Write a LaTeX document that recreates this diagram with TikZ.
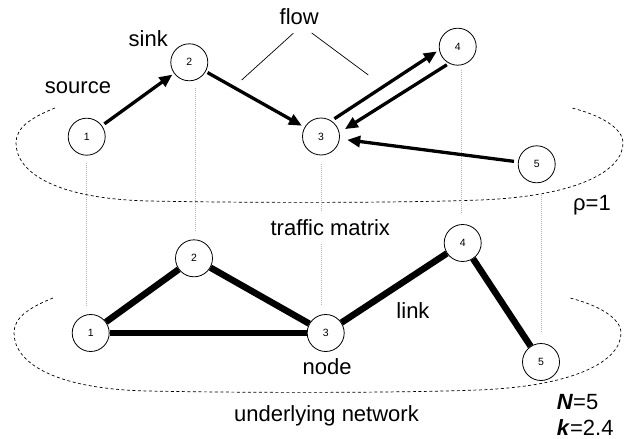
\documentclass[tikz,border=0pt]{standalone}
\usepackage{fontspec}
\setmainfont{Liberation Sans}
\usetikzlibrary{arrows.meta,calc}
\begin{document}
\begin{tikzpicture}[x=1pt,y=-1pt,
  nd/.style={circle,draw,line width=0.8pt,fill=white,minimum size=37pt,inner sep=0pt,font=\fontsize{10.5}{12}\selectfont},
  lbl/.style={font=\fontsize{22}{26}\selectfont,inner sep=0pt},
  farrow/.style={line width=3.3pt,-{Triangle[length=13pt,width=11pt]}},
  lnk/.style={line width=6.5pt},
  vdot/.style={draw=gray!60,line width=0.7pt,dash pattern=on 1pt off 1pt},
  layer/.style={line width=0.7pt,dash pattern=on 3pt off 2.5pt},
  flowline/.style={line width=0.7pt}
]
\useasboundingbox (0,0) rectangle (632,439);

% layers
\draw[layer] (55,108) .. controls (30,118) and (16,128) .. (16,143)
  .. controls (16,172) and (55,199) .. (150,201)
  .. controls (250,203) and (400,203) .. (480,200)
  .. controls (580,196) and (623,170) .. (623,143)
  .. controls (623,128) and (600,115) .. (572,108);
\begin{scope}[shift={(-2,190)}]
\draw[layer] (55,108) .. controls (30,118) and (16,128) .. (16,143)
  .. controls (16,172) and (55,199) .. (150,201)
  .. controls (250,203) and (400,203) .. (480,200)
  .. controls (580,196) and (623,170) .. (623,143)
  .. controls (623,128) and (600,115) .. (572,108);
\end{scope}

% nodes
\node[nd] (t1) at (86.7,136.7) {1};
\node[nd] (t2) at (189.3,62.3) {2};
\node[nd] (t3) at (321,136.5) {3};
\node[nd] (t4) at (457.7,46.7) {4};
\node[nd] (t5) at (536.7,164.3) {5};
\node[nd] (b1) at (90.7,333) {1};
\node[nd] (b2) at (194,258.3) {2};
\node[nd] (b3) at (325.7,333) {3};
\node[nd] (b4) at (462.7,243) {4};
\node[nd] (b5) at (541,362) {5};

% vertical dotted projections
\draw[vdot] ($(t1.south)+(0,7)$) -- ($(b1.north)+(-4,-9)$);
\draw[vdot] ($(t2.south)+(5.7,7)$) -- ($(b2.north)+(1,-9)$);
\draw[vdot] ($(t3.south)+(0.7,9)$) -- ($(b3.north)+(-4,-9)$);
\draw[vdot] ($(t4.south)+(4,4)$) -- ($(b4.north)+(-1,-12)$);
\draw[vdot] ($(t5.south)+(5,10)$) -- ($(b5.north)+(0.7,-11)$);

\node[lbl,fill=white,inner xsep=2pt,inner ysep=7pt] (tm) at (330.3,227.5) {traffic matrix};

% links
\draw[lnk] (b1) -- (b2);
\draw[lnk] (b2) -- (b3);
\draw[lnk] (b1) -- (b3);
\draw[lnk] (b3) -- (b4);
\draw[lnk] (b4) -- (b5);

% flows
\draw[farrow,shorten <=3pt,shorten >=2pt] (t1) -- (t2);
\draw[farrow,shorten <=2pt,shorten >=3pt] (t2) -- (t3);
\draw[farrow,shorten <=21pt,shorten >=20pt] ($(t3)!7.5pt!90:(t4)$) -- ($(t4)!7.5pt!-90:(t3)$);
\draw[farrow,shorten <=19pt,shorten >=24pt] ($(t4)!9.5pt!90:(t3)$) -- ($(t3)!6.5pt!-90:(t4)$);
\draw[farrow,shorten <=4pt,shorten >=7.5pt] (t5) -- (t3);

% labels
\node[lbl] (flow) at (299.3,17) {flow};
\coordinate (fa) at (241.7,80);
\coordinate (fb) at (368.3,75);
\draw[flowline] ($(flow.south)+(-6,8)$) -- (fa);
\draw[flowline] ($(flow.south)+(12.4,7.7)$) -- (fb);
\node[lbl] (sink) at (148.3,39) {sink};
\node[lbl] (source) at (78,87.5) {source};
\node[lbl] (rho) at (592,205) {ρ=1};
\node[lbl] (link) at (413,310.5) {link};
\node[lbl] (nodelbl) at (327.2,367) {node};
\node[lbl] (un) at (326.5,415.7) {underlying network};
\node[lbl,anchor=west] (N) at (556.7,401.7) {\textbf{\textit{N}}=5};
\node[lbl,anchor=west] (k) at (556.7,427.3) {\textbf{\textit{k}}=2.4};
\end{tikzpicture}
\end{document}
